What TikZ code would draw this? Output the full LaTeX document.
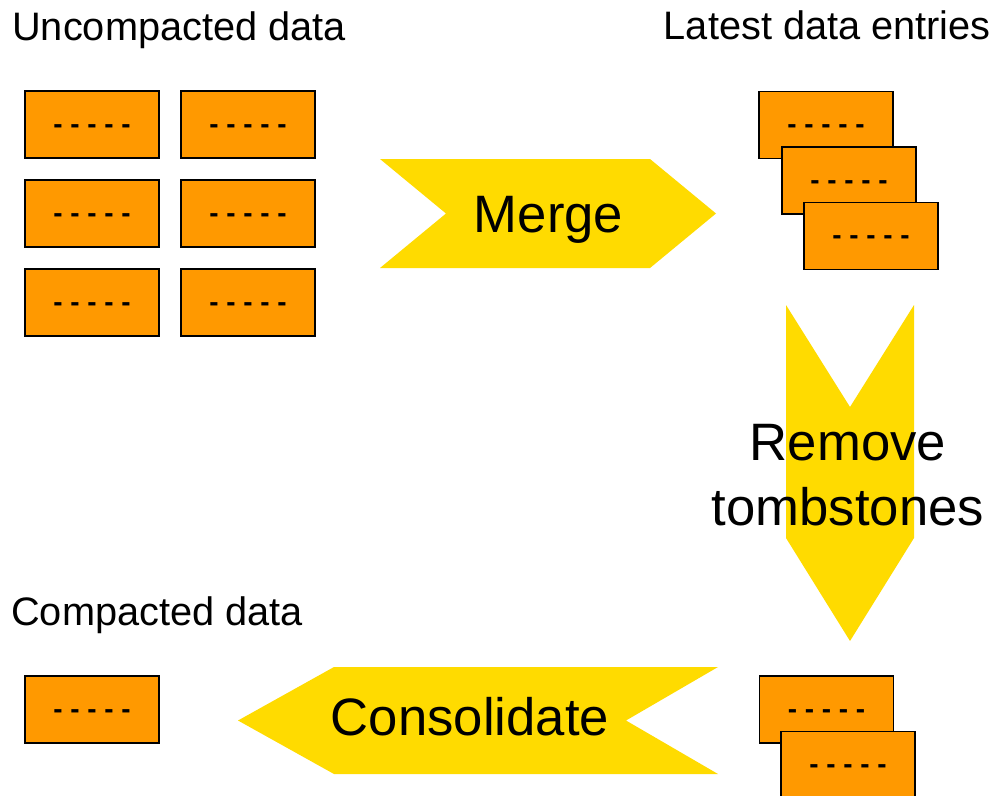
\documentclass[tikz,border=0pt]{standalone}
\usepackage{fontspec}
\setmainfont{Liberation Sans}
\definecolor{boxorange}{HTML}{FF9900}
\definecolor{arrowyellow}{HTML}{FFDB00}
\tikzset{
  databox/.style={draw=black, line width=1.2pt, fill=boxorange, inner sep=0pt,
    minimum width=100.5pt, minimum height=50.25pt,
    font=\fontsize{20.9}{24}\selectfont\bfseries, text height=13.4pt, text depth=0pt},
  bigarrow/.style={fill=arrowyellow},
  biglabel/.style={inner sep=0pt, font=\fontsize{39.5}{48.75}\selectfont},
  smalllabel/.style={inner sep=0pt, font=\fontsize{29.8}{36}\selectfont}
}
\newcommand{\dashtext}{- - - - -}
\begin{document}
\begin{tikzpicture}[x=0.75pt, y=-0.75pt]
\useasboundingbox (0,0) rectangle (996,796);
\clip (0,0) rectangle (996,796);
\fill[white] (0,0) rectangle (996,796);

% labels
\node[smalllabel, anchor=base west] (lunc) at (12,40) {Uncompacted data};
\node[smalllabel, anchor=base east] (llat) at (991,39) {Latest data entries};
\node[smalllabel, anchor=base west] (lcom) at (11,625) {Compacted data};

% left grid of uncompacted data
\node[databox] (u11) at (92,124.5) {\dashtext};
\node[databox] (u12) at (248,124.5) {\dashtext};
\node[databox] (u21) at (92,213.5) {\dashtext};
\node[databox] (u22) at (248,213.5) {\dashtext};
\node[databox] (u31) at (92,302.5) {\dashtext};
\node[databox] (u32) at (248,302.5) {\dashtext};

% merge arrow
\fill[bigarrow] (380,159) -- (650,159) -- (716,213.5) -- (650,268) -- (380,268) -- (446,213.5) -- cycle;
\node[biglabel, anchor=base] (merge) at (548.5,232) {Merge};

% latest entries stack
\node[databox] (la) at (826,125) {\dashtext};
\node[databox] (lb) at (849,180.5) {\dashtext};
\node[databox] (lc) at (871,236) {\dashtext};

% down arrow
\fill[bigarrow] (786,305) -- (850,407) -- (914,305) -- (914,538) -- (850,641) -- (786,538) -- cycle;
\node[biglabel, anchor=base] (rem1) at (848,460) {Remove};
\node[biglabel, anchor=base] (rem2) at (848,525) {tombstones};

% bottom right stack
\node[databox] (ba) at (826.5,709.5) {\dashtext};
\node[databox] (bb) at (848,765) {\dashtext};

% consolidate arrow
\fill[bigarrow] (718,667) -- (334,667) -- (238,720.5) -- (334,774) -- (718,774) -- (626,720.5) -- cycle;
\node[biglabel, anchor=base] (cons) at (470,735) {Consolidate};

% compacted data
\node[databox] (cd) at (92,709.5) {\dashtext};
\end{tikzpicture}
\end{document}
